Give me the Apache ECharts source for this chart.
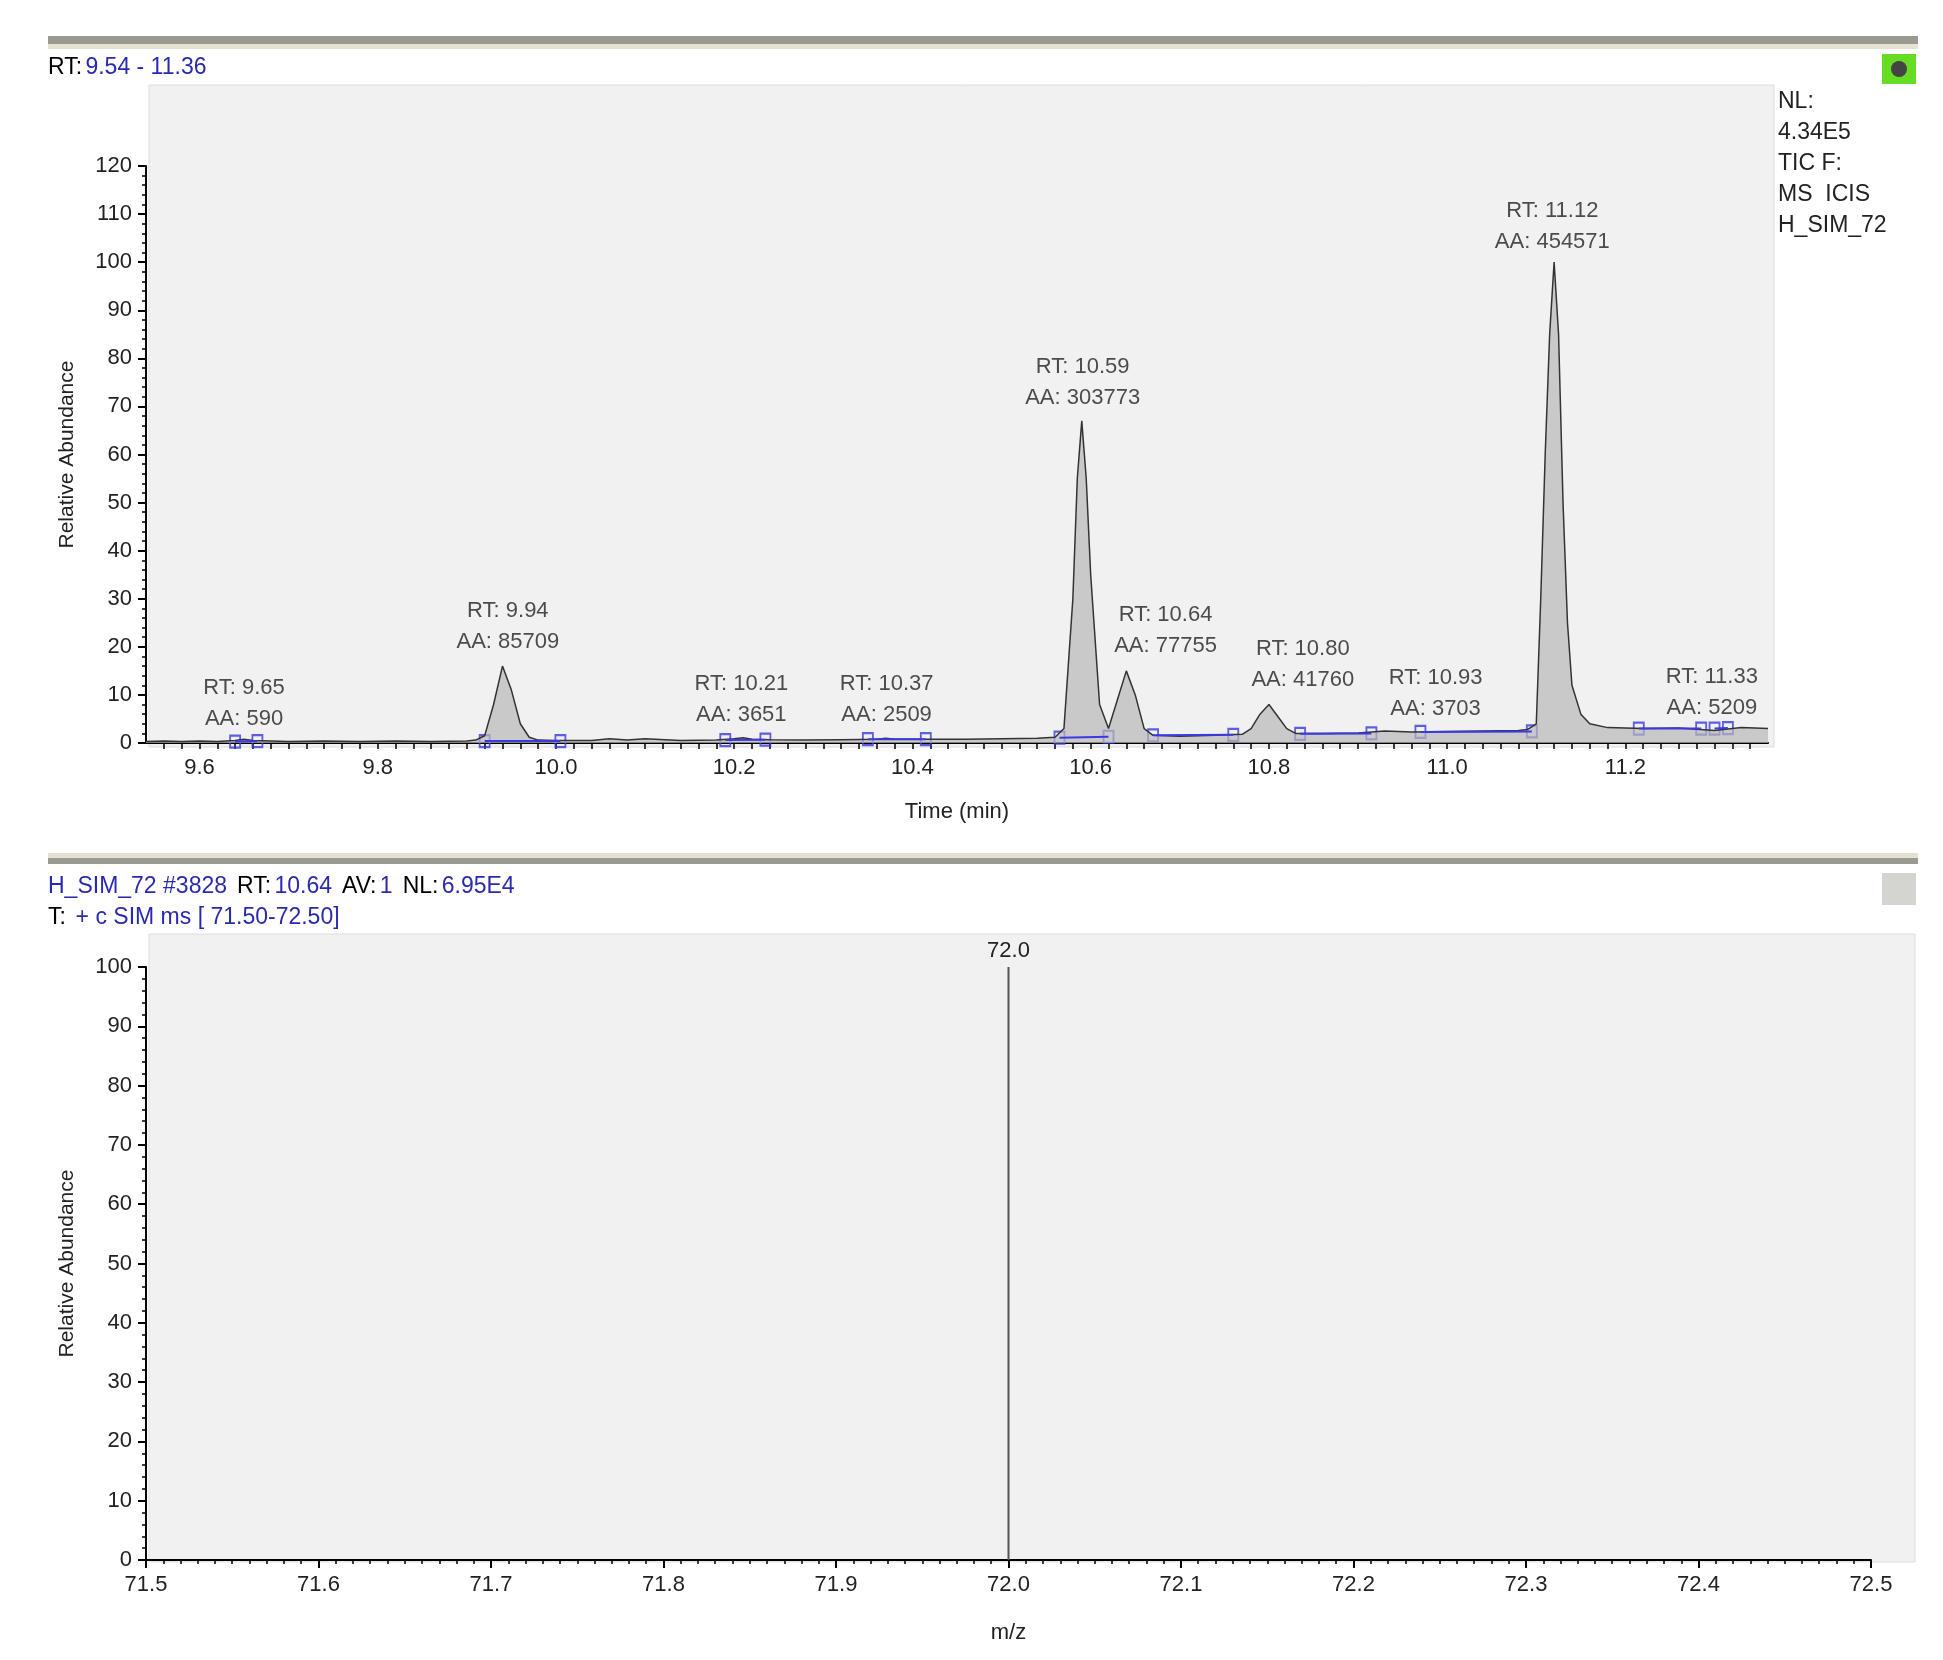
<!DOCTYPE html>
<html><head><meta charset="utf-8">
<script src="https://cdn.jsdelivr.net/npm/echarts@6/dist/echarts.min.js"></script>
<style>html,body{margin:0;padding:0;background:#fff}#c{width:1943px;height:1660px}</style>
</head><body><div id="c"></div>
<script>
// Chromatogram (time, relative abundance)
const chromTime = [9.54,9.56,9.58,9.60,9.62,9.64,9.65,9.66,9.68,9.70,9.74,9.78,9.82,9.86,9.90,9.91,9.92,9.93,9.94,9.95,9.96,9.97,9.98,10.00,10.04,10.06,10.08,10.10,10.14,10.18,10.20,10.21,10.22,10.24,10.28,10.32,10.36,10.37,10.38,10.42,10.46,10.50,10.54,10.56,10.57,10.58,10.585,10.59,10.595,10.60,10.61,10.62,10.63,10.64,10.65,10.66,10.67,10.70,10.74,10.77,10.78,10.79,10.80,10.81,10.82,10.83,10.86,10.90,10.93,10.96,11.00,11.04,11.08,11.09,11.10,11.105,11.11,11.115,11.12,11.125,11.13,11.135,11.14,11.15,11.16,11.18,11.22,11.26,11.30,11.33,11.36];
const chromAbund = [0.3,0.4,0.3,0.4,0.3,0.5,0.8,0.5,0.4,0.3,0.4,0.3,0.4,0.3,0.4,0.6,1.5,8,16,11,4,1.2,0.6,0.5,0.5,0.9,0.6,0.9,0.5,0.6,0.9,1.1,0.8,0.7,0.6,0.7,0.8,1.0,0.8,0.8,0.8,0.9,1.0,1.2,3,30,55,67,55,35,8,3,9,15,10,3,1.6,1.4,1.6,1.8,3,6,8,5.5,3,2,2,2.1,2.5,2.3,2.4,2.5,2.6,2.8,4,30,60,85,100,85,50,25,12,6,4,3.2,3.0,3.1,2.6,3.2,3.0];
// Peak annotations
const peakRT = ['9.65','9.94','10.21','10.37','10.59','10.64','10.80','10.93','11.12','11.33'];
const peakAA = ['590','85709','3651','2509','303773','77755','41760','3703','454571','5209'];
const labelX = [9.65,9.946,10.208,10.371,10.591,10.684,10.838,10.987,11.118,11.297];
const labelY = [8.3,24.3,9.0,9.0,75,23.5,16.3,10.3,107.5,10.6];
// Peak boundary markers
const boundTime = [9.64,9.665,9.92,10.005,10.19,10.235,10.35,10.415,10.565,10.62,10.67,10.76,10.835,10.915,10.97,11.095,11.215,11.285,11.30,11.315];
const boundAbund = [0.3,0.4,0.4,0.4,0.6,0.7,0.8,0.8,1.1,1.3,1.6,1.7,1.9,2.0,2.3,2.4,3.0,3.0,3.0,3.1];
// Mass spectrum
const msMz = [72.0];
const msAbund = [100];

const F = 'Liberation Sans Narrow, Liberation Sans, Arial';
const chart = echarts.init(document.getElementById('c'));
const baselineData = [];
for (let i = 0; i < boundTime.length; i += 2) {
  baselineData.push([boundTime[i], boundAbund[i]], [boundTime[i+1], boundAbund[i+1]], null);
}
const axisCommon = {
  axisLine:{show:true,lineStyle:{color:'#000',width:2}},
  axisTick:{show:true,length:8,lineStyle:{color:'#000',width:2}},
  minorTick:{show:true,length:4,lineStyle:{color:'#000',width:1.5}},
  splitLine:{show:false},
  axisLabel:{color:'#222',fontSize:22,fontFamily:F,margin:14}
};
chart.setOption({
  animation:false,
  graphic:[
    {type:'rect',shape:{x:48,y:36,width:1870,height:8},style:{fill:'#9a9a92'}},
    {type:'rect',shape:{x:48,y:44,width:1870,height:5},style:{fill:'#e6e2d2'}},
    {type:'rect',shape:{x:149,y:85,width:1625,height:662},style:{fill:'#f1f1f1',stroke:'#ddd'},z:-1},
    {type:'rect',shape:{x:1882,y:54,width:34,height:30},style:{fill:'#66dd22'}},
    {type:'circle',shape:{cx:1899,cy:69,r:8},style:{fill:'#444'}},
    {type:'rect',shape:{x:48,y:853,width:1870,height:5},style:{fill:'#e6e2d2'}},
    {type:'rect',shape:{x:48,y:858,width:1870,height:6},style:{fill:'#9a9a92'}},
    {type:'rect',shape:{x:149,y:934,width:1766,height:628},style:{fill:'#f1f1f1',stroke:'#ddd'},z:-1},
    {type:'rect',shape:{x:1882,y:873,width:34,height:32},style:{fill:'#d4d4d0'}},
    {type:'text',left:48,top:56,style:{text:'{k|RT:} {b|9.54 - 11.36}',rich:{k:{fill:'#000',fontSize:23,fontFamily:F},b:{fill:'#2a2ab0',fontSize:23,fontFamily:F}}}},
    {type:'text',left:1778,top:86,style:{text:'NL:\n4.34E5\nTIC F:\nMS  ICIS\nH_SIM_72',fill:'#222',fontSize:23,lineHeight:31,fontFamily:F}},
    {type:'text',left:48,top:875,style:{text:'{b|H_SIM_72 #3828}   {k|RT:} {b|10.64}   {k|AV:} {b|1}   {k|NL:} {b|6.95E4}\n{k|T:} {b| + c SIM ms [ 71.50-72.50]}',rich:{k:{fill:'#000',fontSize:23,fontFamily:F,lineHeight:31},b:{fill:'#2a2ab0',fontSize:23,fontFamily:F,lineHeight:31}}}}
  ],
  grid:[
    {left:146,top:166,width:1622,height:577},
    {left:146,top:967,width:1725,height:593}
  ],
  xAxis:[
    Object.assign({},axisCommon,{gridIndex:0,type:'value',min:9.54,max:11.36,interval:0.02,
      minorTick:{show:false},
      axisTick:{show:true,length:6,lineStyle:{color:'#000',width:1.5}},
      axisLabel:Object.assign({},axisCommon.axisLabel,{showMinLabel:false,showMaxLabel:false,interval:0,
        formatter:v=>{const k=Math.round(v*100);return k%20===0?(k/100).toFixed(1):'';}}),
      name:'Time (min)',nameLocation:'middle',nameGap:58,nameTextStyle:{fontSize:22,fontFamily:F,color:'#222'}}),
    Object.assign({},axisCommon,{gridIndex:1,type:'value',min:71.5,max:72.5,interval:0.1,
      minorTick:Object.assign({},axisCommon.minorTick,{splitNumber:10}),
      axisLabel:Object.assign({},axisCommon.axisLabel,{formatter:v=>v.toFixed(1)}),
      name:'m/z',nameLocation:'middle',nameGap:62,nameTextStyle:{fontSize:22,fontFamily:F,color:'#222'}})
  ],
  yAxis:[
    Object.assign({},axisCommon,{gridIndex:0,type:'value',min:0,max:120,interval:10,
      minorTick:Object.assign({},axisCommon.minorTick,{splitNumber:5}),
      name:'Relative Abundance',nameLocation:'middle',nameGap:68,nameTextStyle:{fontSize:21,fontFamily:F,color:'#222'}}),
    Object.assign({},axisCommon,{gridIndex:1,type:'value',min:0,max:100,interval:10,
      minorTick:Object.assign({},axisCommon.minorTick,{splitNumber:5}),
      name:'Relative Abundance',nameLocation:'middle',nameGap:68,nameTextStyle:{fontSize:21,fontFamily:F,color:'#222'}})
  ],
  series:[
    {type:'line',xAxisIndex:0,yAxisIndex:0,data:chromTime.map((t,i)=>[t,chromAbund[i]]),symbol:'none',
      lineStyle:{color:'#333',width:1.5},areaStyle:{color:'#b8b8b8',origin:'start'}},
    {type:'line',xAxisIndex:0,yAxisIndex:0,data:baselineData,symbol:'none',connectNulls:false,
      lineStyle:{color:'#3a3ae0',width:2}},
    {type:'scatter',xAxisIndex:0,yAxisIndex:0,data:boundTime.map((t,i)=>[t,boundAbund[i]]),
      symbol:'rect',symbolSize:[10,12],itemStyle:{color:'rgba(0,0,0,0)',borderColor:'#3a3ae0',borderWidth:2}},
    {type:'scatter',xAxisIndex:0,yAxisIndex:0,data:labelX.map((x,i)=>[x,labelY[i]]),symbolSize:0,
      label:{show:true,position:'inside',fontSize:22,fontFamily:F,color:'#222',lineHeight:31,align:'center',
        formatter:p=>'RT: '+peakRT[p.dataIndex]+'\nAA: '+peakAA[p.dataIndex]}},
    {type:'line',xAxisIndex:1,yAxisIndex:1,data:[[msMz[0],0],[msMz[0],msAbund[0]]],symbol:'none',
      lineStyle:{color:'#555',width:2},
      markPoint:{symbol:'circle',symbolSize:0,data:[{coord:[msMz[0],msAbund[0]]}],
        label:{show:true,position:'top',formatter:msMz[0].toFixed(1),fontSize:22,fontFamily:F,color:'#222'}}}
  ]
});
</script></body></html>
